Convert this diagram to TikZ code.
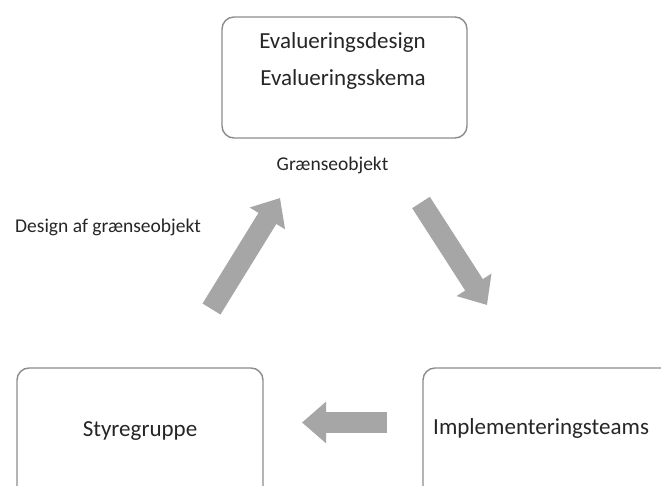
\documentclass[tikz,border=0pt]{standalone}
\usepackage{fontspec}
\setmainfont{Carlito}
\usetikzlibrary{arrows.meta}
\definecolor{boxline}{RGB}{140,140,140}
\definecolor{arrowgray}{RGB}{166,166,166}
\definecolor{textdark}{RGB}{38,38,38}
\begin{document}
\begin{tikzpicture}[x=1pt,y=-1pt,
  box/.style={draw=boxline, line width=1.4pt, rounded corners=12pt, fill=white},
  bigtext/.style={anchor=base, inner sep=0pt, text=textdark, font=\fontsize{23}{28}\selectfont},
  smalltext/.style={anchor=base, inner sep=0pt, text=textdark, font=\fontsize{19.5}{24}\selectfont},
  blockarrow/.style={line width=21pt, draw=arrowgray, -{Triangle[width=40pt,length=24pt]}}]
  % page frame
  \clip (0,0) rectangle (661,486);
  \fill[white] (0,0) rectangle (661,486);

  % boxes
  \node[box, minimum width=245pt, minimum height=121pt] (top) at (344.5,77.5) {};
  \node[box, minimum width=246pt, minimum height=150pt] (left) at (140,443) {};
  \node[box, minimum width=260pt, minimum height=150pt] (right) at (553,443) {};

  % texts
  \node[bigtext] (t1) at (342.5,49) {Evalueringsdesign};
  \node[bigtext] (t2) at (343,86) {Evalueringsskema};
  \node[smalltext] (g) at (332.5,171) {Grænseobjekt};
  \node[smalltext, anchor=base west] (d) at (15,233) {Design af grænseobjekt};
  \node[bigtext] (s) at (140,436) {Styregruppe};
  \node[bigtext, anchor=base west] (i) at (433,434) {Implementeringsteams};

  % block arrows
  \coordinate (upTail) at (211.5,309);
  \coordinate (upTip) at (280,198);
  \coordinate (dnTail) at (421,202.5);
  \coordinate (dnTip) at (487,305);
  \coordinate (lfTail) at (387,422.5);
  \coordinate (lfTip) at (302,422.5);
  \draw[blockarrow] (upTail) -- (upTip);
  \draw[blockarrow] (dnTail) -- (dnTip);
  \draw[blockarrow] (lfTail) -- (lfTip);
\end{tikzpicture}
\end{document}
